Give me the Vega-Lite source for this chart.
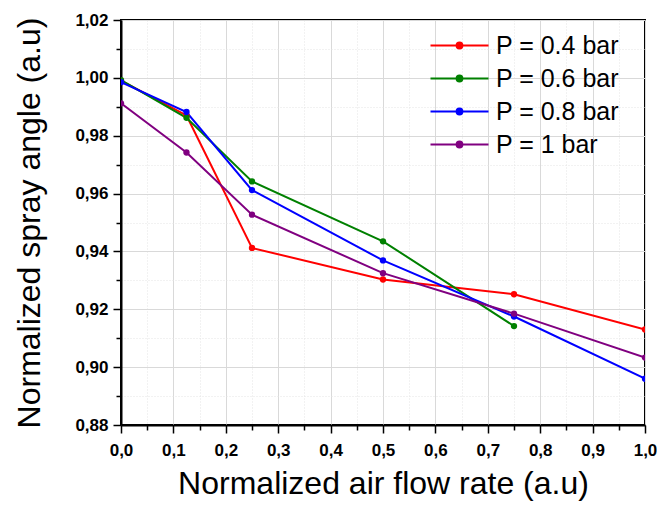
{
  "$schema": "https://vega.github.io/schema/vega-lite/v6.json",
  "width": 524,
  "height": 405,
  "autosize": {"type": "none"},
  "padding": {"left": 121, "top": 20, "right": 12, "bottom": 81},
  "background": "white",
  "config": {
    "view": {"stroke": "black", "strokeWidth": 2},
    "font": "Liberation Sans"
  },
  "data": {
    "values": [
      {"x": 0, "y": 0.999, "P": "P = 0.4 bar"},
      {"x": 0.125, "y": 0.987, "P": "P = 0.4 bar"},
      {"x": 0.25, "y": 0.9412, "P": "P = 0.4 bar"},
      {"x": 0.5, "y": 0.9303, "P": "P = 0.4 bar"},
      {"x": 0.75, "y": 0.9252, "P": "P = 0.4 bar"},
      {"x": 1.0, "y": 0.913, "P": "P = 0.4 bar"},
      {"x": 0, "y": 0.9992, "P": "P = 0.6 bar"},
      {"x": 0.125, "y": 0.9862, "P": "P = 0.6 bar"},
      {"x": 0.25, "y": 0.9642, "P": "P = 0.6 bar"},
      {"x": 0.5, "y": 0.9435, "P": "P = 0.6 bar"},
      {"x": 0.75, "y": 0.9142, "P": "P = 0.6 bar"},
      {"x": 0, "y": 0.9985, "P": "P = 0.8 bar"},
      {"x": 0.125, "y": 0.9882, "P": "P = 0.8 bar"},
      {"x": 0.25, "y": 0.9612, "P": "P = 0.8 bar"},
      {"x": 0.5, "y": 0.9369, "P": "P = 0.8 bar"},
      {"x": 0.75, "y": 0.9175, "P": "P = 0.8 bar"},
      {"x": 1.0, "y": 0.896, "P": "P = 0.8 bar"},
      {"x": 0, "y": 0.9912, "P": "P = 1 bar"},
      {"x": 0.125, "y": 0.9742, "P": "P = 1 bar"},
      {"x": 0.25, "y": 0.9527, "P": "P = 1 bar"},
      {"x": 0.5, "y": 0.9325, "P": "P = 1 bar"},
      {"x": 0.75, "y": 0.9185, "P": "P = 1 bar"},
      {"x": 1.0, "y": 0.9033, "P": "P = 1 bar"}
    ]
  },
  "resolve": {"axis": {"x": "independent", "y": "independent"}},
  "layer": [
    {
      "mark": {"type": "line", "strokeOpacity": 0},
      "encoding": {
        "x": {
          "field": "x", "type": "quantitative",
          "scale": {"domain": [0, 1], "nice": false, "zero": false},
          "axis": {
            "orient": "bottom", "values": [0.05, 0.15, 0.25, 0.35, 0.45, 0.55, 0.65, 0.75, 0.85, 0.95],
            "labels": false, "domain": false, "title": null,
            "ticks": true, "tickSize": 5, "tickColor": "black", "tickWidth": 1.5,
            "grid": true, "gridColor": "#e4e4e4", "gridDash": [1, 2], "gridWidth": 1
          }
        },
        "y": {
          "field": "y", "type": "quantitative",
          "scale": {"domain": [0.88, 1.02], "nice": false, "zero": false},
          "axis": {
            "orient": "left", "values": [0.89, 0.91, 0.93, 0.95, 0.97, 0.99, 1.01],
            "labels": false, "domain": false, "title": null,
            "ticks": true, "tickSize": 5, "tickColor": "black", "tickWidth": 1.5,
            "grid": true, "gridColor": "#e4e4e4", "gridDash": [1, 2], "gridWidth": 1
          }
        }
      }
    },
    {
      "mark": {"type": "line", "strokeWidth": 2, "clip": true, "point": {"filled": true, "size": 40, "clip": true}},
      "encoding": {
        "x": {
          "field": "x", "type": "quantitative",
          "axis": {
            "orient": "bottom", "values": [0, 0.1, 0.2, 0.3, 0.4, 0.5, 0.6, 0.7, 0.8, 0.9, 1.0],
            "labelExpr": "replace(format(datum.value, '.1f'), '.', ',')",
            "labelFont": "Liberation Sans", "labelFontWeight": "bold", "labelFontSize": 17, "labelColor": "black",
            "labelPadding": 9, "labelFlush": false,
            "domain": true, "domainColor": "black", "domainWidth": 2,
            "ticks": true, "tickSize": 8, "tickColor": "black", "tickWidth": 1.5,
            "grid": true, "gridColor": "#d9d9d9", "gridWidth": 1,
            "title": "Normalized air flow rate (a.u)",
            "titleFont": "Liberation Sans", "titleFontSize": 32, "titleFontWeight": "normal", "titleColor": "black",
            "titlePadding": 10
          }
        },
        "y": {
          "field": "y", "type": "quantitative",
          "axis": {
            "orient": "left", "values": [0.88, 0.9, 0.92, 0.94, 0.96, 0.98, 1.0, 1.02],
            "labelExpr": "replace(format(datum.value, '.2f'), '.', ',')",
            "labelFont": "Liberation Sans", "labelFontWeight": "bold", "labelFontSize": 17, "labelColor": "black",
            "labelPadding": 5, "labelFlush": false,
            "domain": true, "domainColor": "black", "domainWidth": 2,
            "ticks": true, "tickSize": 8, "tickColor": "black", "tickWidth": 1.5,
            "grid": true, "gridColor": "#d9d9d9", "gridWidth": 1,
            "title": "Normalized spray angle (a.u)",
            "titleFont": "Liberation Sans", "titleFontSize": 32, "titleFontWeight": "normal", "titleColor": "black",
            "titlePadding": 28
          }
        },
        "color": {
          "field": "P", "type": "nominal",
          "scale": {"domain": ["P = 0.4 bar", "P = 0.6 bar", "P = 0.8 bar", "P = 1 bar"], "range": ["#ff0000", "#008000", "#0000ff", "#800080"]},
          "legend": {
            "title": null, "orient": "none", "legendX": 323, "legendY": 10, "padding": 0,
            "symbolType": "M-2,0H2M-0.2,0A0.2,0.2,0,1,1,0.2,0A0.2,0.2,0,1,1,-0.2,0Z",
            "symbolSize": 841, "symbolStrokeWidth": 2,
            "labelFont": "Liberation Sans", "labelFontSize": 25, "labelColor": "black",
            "labelOffset": 21, "rowPadding": 4
          }
        }
      }
    }
  ]
}
